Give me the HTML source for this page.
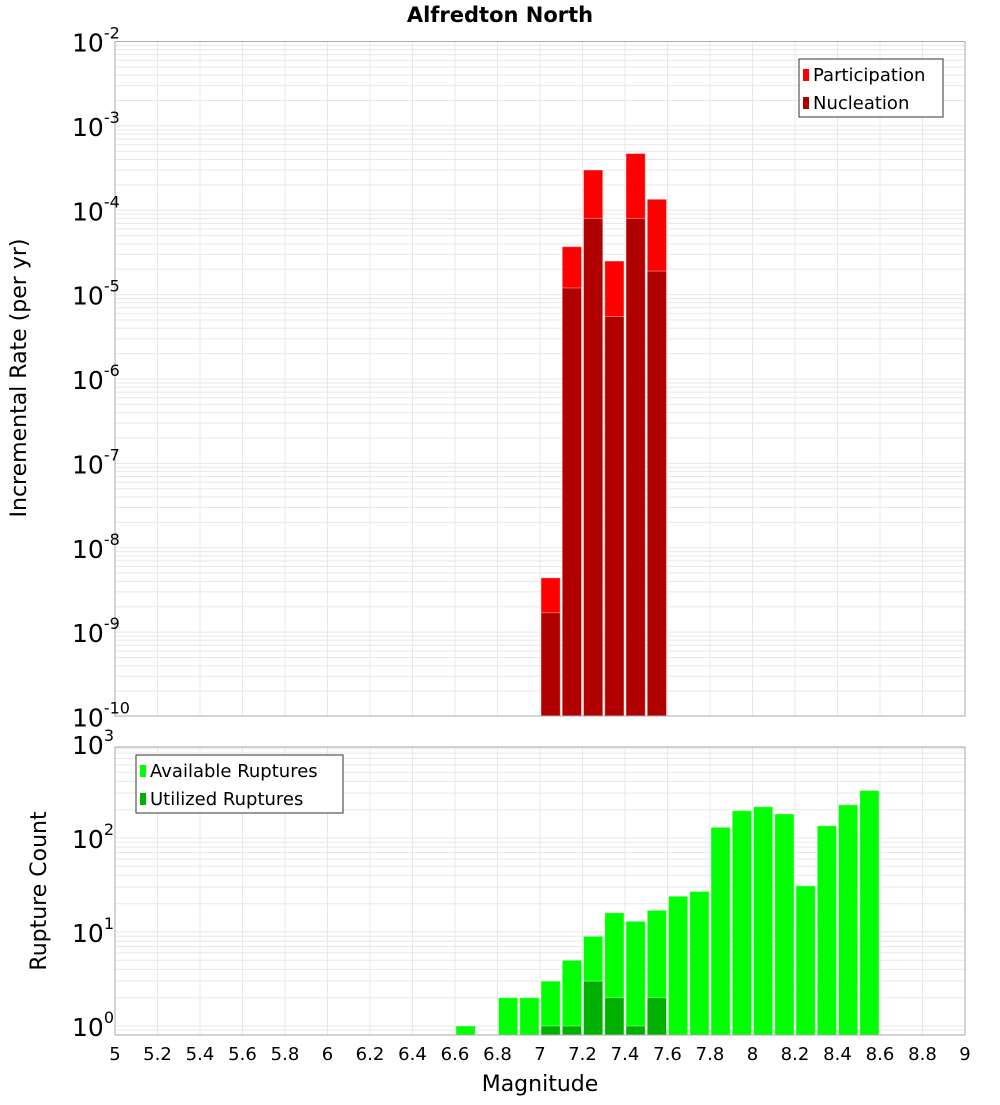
<!DOCTYPE html>
<html><head><meta charset="utf-8"><style>
body{margin:0;background:#fff;font-family:"Liberation Sans","DejaVu Sans",sans-serif}
</style></head><body>
<svg id="c" width="1000" height="1100" xmlns="http://www.w3.org/2000/svg" style="font-family:'DejaVu Sans','Liberation Sans',sans-serif">
<text x="500" y="22" text-anchor="middle" font-size="21" font-weight="bold">Alfredton North</text>
<text transform="translate(26,378) rotate(-90)" text-anchor="middle" font-size="22">Incremental Rate (per yr)</text>
<text transform="translate(46,891) rotate(-90)" text-anchor="middle" font-size="22">Rupture Count</text>
<text x="540" y="1091" text-anchor="middle" font-size="22">Magnitude</text>
</svg>
<script>
const binCenters=[7.05,7.15,7.25,7.35,7.45,7.55];
const participation=[4.4e-9,3.7e-5,3.0e-4,2.5e-5,4.7e-4,1.35e-4];
const nucleation=[1.7e-9,1.2e-5,8e-5,5.5e-6,8e-5,1.9e-5];
const countCenters=[6.65,6.85,6.95,7.05,7.15,7.25,7.35,7.45,7.55,7.65,7.75,7.85,7.95,8.05,8.15,8.25,8.35,8.45,8.55];
const available=[1,2,2,3,5,9,16,13,17,24,27,130,195,215,180,31,135,225,320];
const utilCenters=[7.05,7.15,7.25,7.35,7.45,7.55];
const utilized=[1,1,3,2,1,2];
const xTicks=[5,5.2,5.4,5.6,5.8,6,6.2,6.4,6.6,6.8,7,7.2,7.4,7.6,7.8,8,8.2,8.4,8.6,8.8,9];
const topExps=[-2,-3,-4,-5,-6,-7,-8,-9,-10];
const botExps=[0,1,2,3];

const NS="http://www.w3.org/2000/svg",svg=document.getElementById('c');
function mk(t,a,p){const e=document.createElementNS(NS,t);for(const k in a)e.setAttribute(k,a[k]);(p||svg).appendChild(e);return e;}
const X0=115,X1=965;
const x=v=>X0+(v-5)/4*(X1-X0);
const T={top:41.5,bot:716,yt:v=>41.5+(-2-Math.log10(v))*84.375};
const B={top:747,bot:1035,yt:v=>1026-Math.log10(v)*94};

function grid(P,lo,hi){
  for(let e=lo;e<=hi;e++)for(let m=1;m<10;m++){const y=P.yt(m*Math.pow(10,e));if(y<P.top||y>P.bot)continue;
    const l=mk('line',{x1:X0,x2:X1,y1:y,y2:y,stroke:'#e8e8e8','stroke-width':1});
    
    }
  xTicks.forEach(t=>{const l=mk('line',{x1:x(t),x2:x(t),y1:P.top,y2:P.bot,stroke:'#e8e8e8'});
    
    });
}
grid(T,-10,-3);grid(B,-1,3);

const bw=21.25;
function bar(cx,v,P,col,name){const y=Math.max(P.yt(v),P.top);
  const r=mk('rect',{x:x(cx)-bw/2+1,y:y,width:bw-2,height:P.bot-y,fill:col,stroke:'rgba(255,255,255,0.4)','stroke-width':1});
  
  }
binCenters.forEach((c,i)=>bar(c,participation[i],T,'#ff0000','participation-bar'));
binCenters.forEach((c,i)=>bar(c,nucleation[i],T,'#b00000','nucleation-bar'));
countCenters.forEach((c,i)=>bar(c,available[i],B,'#00ff00','available-bar'));
utilCenters.forEach((c,i)=>bar(c,utilized[i],B,'#00b000','utilized-bar'));

[T,B].forEach(P=>{const r=mk('rect',{x:X0,y:P.top,width:X1-X0,height:P.bot-P.top,fill:'none',stroke:'#aaa'});
  
  });

function ylab(P,e){const y=P.yt(Math.pow(10,e));const t=mk('text',{x:72,y:y+10,'font-size':25});
  
  
  t.textContent='10';const s=mk('tspan',{dy:-13,'font-size':16},t);s.textContent=String(e);}
topExps.forEach(e=>ylab(T,e));botExps.forEach(e=>ylab(B,e));
xTicks.forEach(t=>{const l=mk('text',{x:x(t),y:1060,'text-anchor':'middle','font-size':18});
  
  
  l.textContent=String(t);});

function legend(lx,ly,w,items,name){const g=mk('g',{});
  
  
  mk('rect',{x:lx,y:ly,width:w,height:58,fill:'#fff',stroke:'#333'},g);
  items.forEach((it,i)=>{mk('rect',{x:lx+4,y:ly+10+i*28,width:6,height:12,fill:it[1]},g);
    const t=mk('text',{x:lx+14,y:ly+22+i*28,'font-size':18},g);t.textContent=it[0];});}
legend(799,59,144,[['Participation','#ff0000'],['Nucleation','#b00000']],'legend-top');
legend(136,755,207,[['Available Ruptures','#00ff00'],['Utilized Ruptures','#00b000']],'legend-bottom');
</script>
</body></html>
